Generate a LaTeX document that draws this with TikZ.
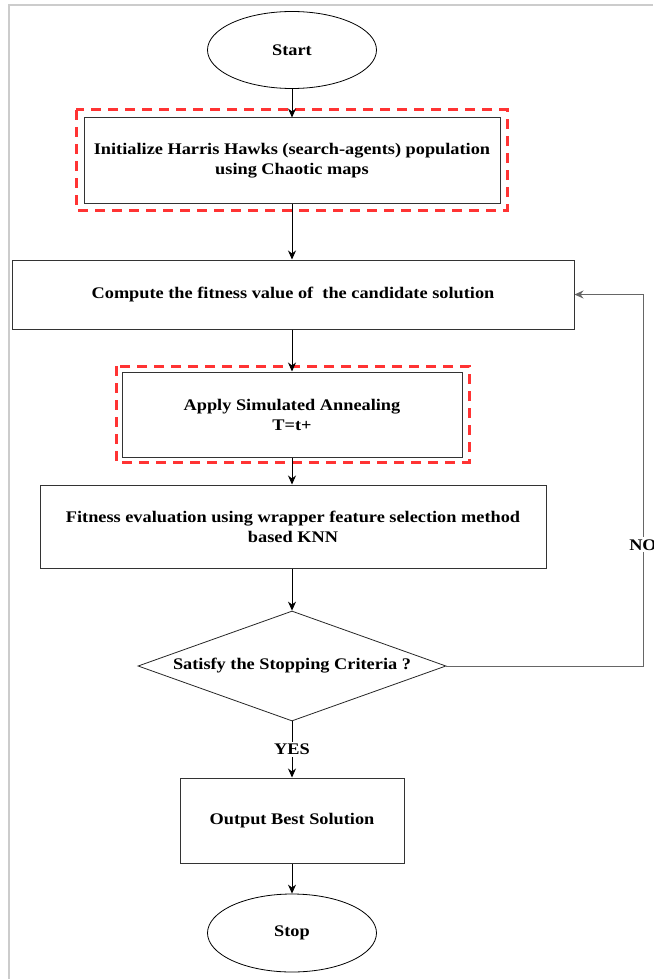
\documentclass[tikz,border=0pt]{standalone}
\usepackage{fontspec}
\setmainfont{Liberation Serif}[FakeStretch=1.13]
\usetikzlibrary{shapes.geometric,arrows.meta}
\begin{document}
\begin{tikzpicture}[x=1pt,y=1pt,
  every node/.style={font=\bfseries\fontsize{16.2}{20}\selectfont, align=center, text=black},
  term/.style={draw=black, line width=0.8pt, ellipse, minimum width=169pt, minimum height=77pt, inner sep=0pt},
  procbox/.style={draw=black!80, line width=1pt, rectangle, inner sep=0pt},
  redbox/.style={draw=red!80!white, line width=3pt, dash pattern=on 10pt off 7pt},
  decis/.style={draw=black!85, line width=0.8pt, diamond, aspect=2.8, inner sep=0pt, minimum width=308pt, minimum height=110pt},
  flow/.style={draw=black, line width=0.8pt, -{Stealth[length=9pt,width=8pt]}},
  loopline/.style={draw=black!60, line width=1pt, -{Stealth[length=9pt,width=8pt]}, color=black!60},
  lbl/.style={fill=white, inner sep=2pt}
]
\useasboundingbox (0,0) rectangle (653,-979);
\clip (0,0) rectangle (653,-979);
% frame
\draw[black!20, line width=2pt] (9,-979) -- (9,-5) -- (653,-5);

\node[term] (start) at (292,-50) {Start};
\draw[redbox] (76,-110) rectangle (507,-210);
\node[procbox, minimum width=416pt, minimum height=85pt] (init) at (292,-160.5) {Initialize Harris Hawks (search-agents) population\\using Chaotic maps};
\node[procbox, minimum width=562pt, minimum height=69pt] (comp) at (293,-294.5) {Compute the fitness value of \ the candidate solution};
\draw[redbox] (116,-366) rectangle (469,-462);
\node[procbox, minimum width=340pt, minimum height=85pt] (sa) at (292,-414.5) {Apply Simulated Annealing\\T=t+};
\node[procbox, minimum width=506pt, minimum height=83pt] (fit) at (293,-526.5) {Fitness evaluation using wrapper feature selection method\\based KNN};
\node[decis] (dec) at (292,-666) {Satisfy the Stopping Criteria ?};
\node[procbox, minimum width=224pt, minimum height=85pt] (out) at (292,-820.5) {Output Best Solution};
\node[term, minimum height=78pt] (stop) at (292,-933) {Stop};

\draw[flow] (start) -- (init);
\draw[flow] (init) -- (comp.north -| init.south);
\draw[flow] (comp.south -| sa.north) -- (sa);
\draw[flow] (sa) -- (fit.north -| sa.south);
\draw[flow] (fit.south -| dec.north) -- (dec);
\draw[flow] (dec) -- node[lbl, pos=0.5]{YES} (out);
\draw[flow] (out) -- (stop);
\coordinate (c1) at (643,-666);
\coordinate (c2) at (643,-294.5);
\draw[loopline] (dec.east) -- (c1) -- node[lbl, pos=0.326]{NO} (c2) -- (comp.east);
\end{tikzpicture}
\end{document}
